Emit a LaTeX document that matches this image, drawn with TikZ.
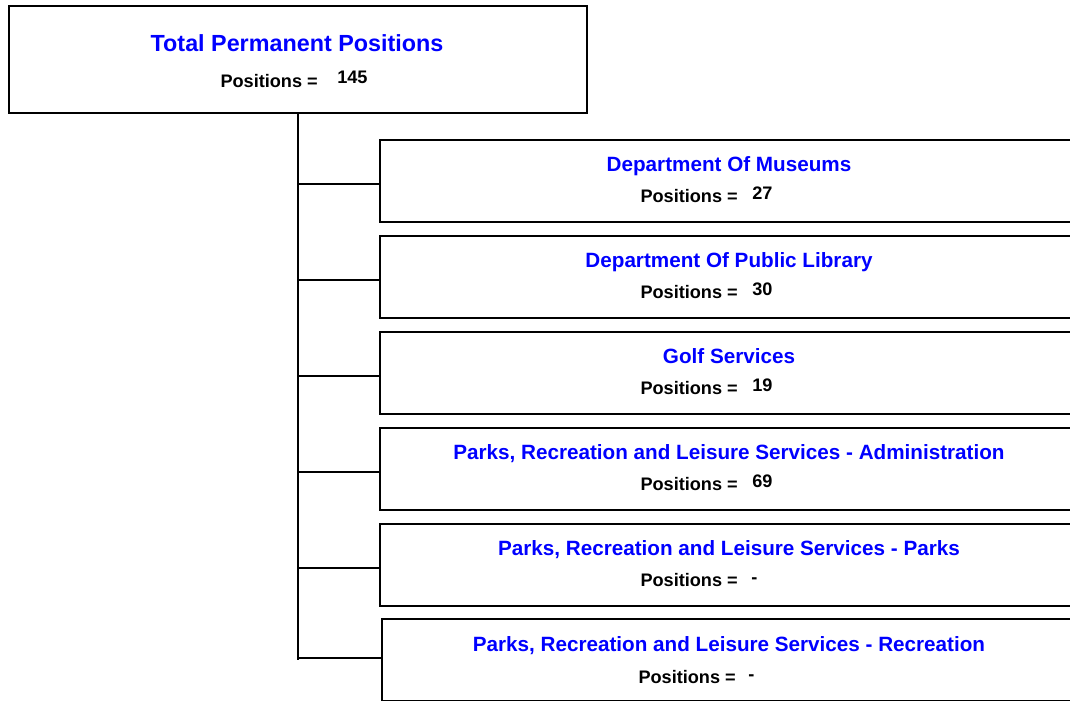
\documentclass[tikz,border=0pt]{standalone}
\usepackage{fontspec}
\setmainfont{Liberation Sans}
\definecolor{ttl}{RGB}{0,0,255}
\begin{document}
\begin{tikzpicture}[x=0.75pt,y=-0.75pt,
  box/.style={draw=black,line width=1.6pt,fill=white,rectangle,inner sep=0pt,anchor=north west},
  topbox/.style={box,minimum width=433.5pt,minimum height=80.25pt},
  unitbox/.style={box,minimum width=525pt,minimum height=61.5pt},
  ttltext/.style={text=ttl,font=\fontsize{15.5}{18}\selectfont\bfseries,anchor=base,inner sep=0pt},
  bigttl/.style={ttltext,font=\fontsize{17.5}{21}\selectfont\bfseries},
  postext/.style={text=black,font=\fontsize{13.6}{16}\selectfont\bfseries,anchor=base east,inner sep=0pt},
  numtext/.style={text=black,font=\fontsize{13.6}{16}\selectfont\bfseries,anchor=base west,inner sep=0pt},
  conn/.style={draw=black,line width=1.6pt}]
\useasboundingbox (0,0) rectangle (1070,700);
\clip (0,0) rectangle (1070,700);
\fill[white] (0,0) rectangle (1070,700);

% top box
\node[topbox] (top) at (8,5) {};
\node[bigttl] (toptitle) at (297,51) {Total Permanent Positions};
\node[postext] (toppos) at (318,87) {Positions =};
\node[numtext] (topnum) at (337,83) {145};

% trunk
\coordinate (trunkstart) at (298,112);
\coordinate (trunkend) at (298,660);
\draw[conn] (trunkstart) -- (trunkend);

% unit boxes
\node[unitbox] (u1) at (379,139) {};
\node[unitbox] (u2) at (379,235) {};
\node[unitbox] (u3) at (379,331) {};
\node[unitbox] (u4) at (379,427) {};
\node[unitbox] (u5) at (379,523) {};
\node[unitbox] (u6) at (381,618) {};

\foreach \u in {u1,u2,u3,u4,u5}{
  \draw[conn] ([yshift=-2.25pt]\u.west -| trunkstart) -- ([yshift=-2.25pt]\u.west);
}
\draw[conn] ([yshift=1.5pt]u6.west -| trunkstart) -- ([yshift=1.5pt]u6.west);

% texts
\node[ttltext] (t1) at (729,171) {Department Of Museums};
\node[postext] (p1) at (738,202) {Positions =};
\node[numtext] (n1) at (752,199) {27};

\node[ttltext] (t2) at (729,267) {Department Of Public Library};
\node[postext] (p2) at (738,298) {Positions =};
\node[numtext] (n2) at (752,295) {30};

\node[ttltext] (t3) at (729,363) {Golf Services};
\node[postext] (p3) at (738,394) {Positions =};
\node[numtext] (n3) at (752,391) {19};

\node[ttltext] (t4) at (729,459) {Parks, Recreation and Leisure Services - Administration};
\node[postext] (p4) at (738,490) {Positions =};
\node[numtext] (n4) at (752,487) {69};

\node[ttltext] (t5) at (729,555) {Parks, Recreation and Leisure Services - Parks};
\node[postext] (p5) at (738,586) {Positions =};
\node[numtext] (n5) at (751,583) {-};

\node[ttltext] (t6) at (729,651) {Parks, Recreation and Leisure Services - Recreation};
\node[postext] (p6) at (736,683) {Positions =};
\node[numtext] (n6) at (748,680) {-};
\end{tikzpicture}
\end{document}
